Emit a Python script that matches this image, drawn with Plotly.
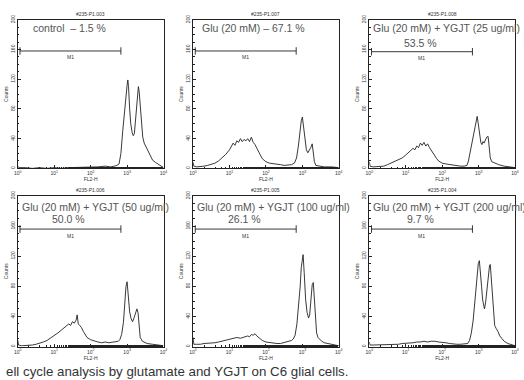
import plotly.graph_objects as go

# ---------------- data ----------------
panel_ids = ["#235-P1.003", "#235-P1.007", "#235-P1.008",
             "#235-P1.006", "#235-P1.005", "#235-P1.004"]
label_line1 = ["control  \u2013 1.5 %", "Glu (20 mM) \u2013 67.1 %",
               "Glu (20 mM) + YGJT (25 ug/ml)", "Glu (20 mM) + YGJT (50 ug/ml)",
               "Glu (20 mM) + YGJT (100 ug/ml)", "Glu (20 mM) + YGJT (200 ug/ml)"]
label_line2 = ["", "", "53.5 %", "50.0 %", "26.1 %", "9.7 %"]

# FL2-H position in decades (log10) and counts, per panel
p1_log = [0.0, 0.03, 0.2, 0.4, 0.6, 0.8, 1.0, 1.2, 1.4, 1.6, 1.8, 2.0, 2.2, 2.4, 2.55, 2.65, 2.72, 2.78, 2.83, 2.88, 2.93, 2.97,
          3.0, 3.02, 3.04, 3.07, 3.1, 3.14, 3.17, 3.2, 3.24, 3.28, 3.31, 3.33, 3.36, 3.39, 3.43, 3.47, 3.52, 3.58, 3.64, 3.7,
          3.78, 3.86, 3.93, 4.0]
p1_cnt = [3, 1, 1, 0, 1, 0, 1, 0, 1, 1, 2, 1, 2, 3, 2, 3, 4, 6, 20, 50, 80, 100,
          112, 119, 110, 80, 60, 48, 44, 47, 70, 98, 110, 104, 88, 70, 42, 34, 29, 24, 16, 11,
          8, 5, 3, 1]

p2_log = [0.0, 0.02, 0.1, 0.2, 0.3, 0.4, 0.5, 0.6, 0.7, 0.8, 0.9, 1.0, 1.05, 1.1, 1.15, 1.2, 1.25, 1.3, 1.35, 1.4,
          1.45, 1.5, 1.55, 1.6, 1.65, 1.7, 1.75, 1.8, 1.85, 1.9, 1.95, 2.0, 2.1, 2.2, 2.3, 2.4, 2.5, 2.6, 2.7, 2.78,
          2.84, 2.89, 2.93, 2.97, 3.0, 3.03, 3.07, 3.11, 3.15, 3.19, 3.23, 3.27, 3.3, 3.33, 3.37, 3.45, 3.6, 3.8, 4.0]
p2_cnt = [8, 3, 2, 2, 3, 4, 5, 7, 10, 14, 19, 25, 30, 34, 31, 37, 35, 40, 36, 39,
          37, 40, 36, 42, 35, 32, 27, 22, 17, 13, 11, 9, 7, 6, 5, 5, 4, 5, 5, 7,
          14, 30, 50, 64, 69, 58, 36, 25, 21, 24, 28, 33, 22, 9, 4, 3, 2, 2, 1]

p3_log = [0.0, 0.02, 0.1, 0.2, 0.3, 0.4, 0.5, 0.6, 0.7, 0.8, 0.9, 1.0, 1.1, 1.2, 1.25, 1.3, 1.35, 1.4, 1.45, 1.5,
          1.55, 1.6, 1.65, 1.7, 1.75, 1.8, 1.85, 1.9, 2.0, 2.1, 2.2, 2.3, 2.4, 2.5, 2.6, 2.68, 2.72, 2.76, 2.8, 2.85,
          2.9, 2.94, 2.96, 2.99, 3.02, 3.06, 3.09, 3.12, 3.15, 3.18, 3.22, 3.26, 3.29, 3.32, 3.36, 3.45, 3.55, 3.7, 3.85, 4.0]
p3_cnt = [9, 3, 2, 2, 3, 3, 5, 7, 9, 12, 14, 18, 22, 27, 25, 30, 28, 34, 31, 35,
          30, 33, 28, 24, 20, 16, 13, 10, 7, 6, 5, 4, 4, 3, 3, 4, 10, 20, 30, 42,
          55, 66, 70, 60, 45, 35, 32, 36, 34, 38, 42, 43, 30, 14, 9, 7, 5, 3, 2, 1]

p4_log = [0.0, 0.02, 0.1, 0.2, 0.3, 0.4, 0.5, 0.6, 0.7, 0.8, 0.9, 1.0, 1.1, 1.2, 1.3, 1.4, 1.45, 1.5, 1.55, 1.6,
          1.63, 1.66, 1.7, 1.75, 1.8, 1.85, 1.9, 2.0, 2.1, 2.2, 2.3, 2.4, 2.5, 2.6, 2.7, 2.76, 2.8, 2.85, 2.9, 2.94,
          2.97, 3.0, 3.03, 3.07, 3.11, 3.15, 3.19, 3.23, 3.27, 3.3, 3.33, 3.36, 3.42, 3.55, 3.7, 3.85, 4.0]
p4_cnt = [8, 2, 1, 1, 2, 2, 3, 4, 6, 8, 11, 14, 18, 22, 26, 30, 28, 33, 31, 35,
          42, 30, 28, 25, 20, 16, 12, 9, 7, 6, 5, 6, 5, 6, 6, 7, 9, 16, 32, 58,
          80, 86, 68, 46, 37, 33, 38, 46, 50, 45, 25, 12, 7, 4, 3, 2, 1]

p5_log = [0.0, 0.02, 0.1, 0.2, 0.3, 0.4, 0.5, 0.6, 0.7, 0.8, 0.9, 1.0, 1.1, 1.2, 1.3, 1.4, 1.5, 1.55, 1.6, 1.65,
          1.7, 1.75, 1.8, 1.85, 1.9, 2.0, 2.1, 2.2, 2.3, 2.4, 2.5, 2.6, 2.7, 2.75, 2.8, 2.85, 2.9, 2.94, 2.97, 3.0,
          3.02, 3.05, 3.09, 3.13, 3.17, 3.2, 3.24, 3.27, 3.3, 3.33, 3.36, 3.39, 3.43, 3.48, 3.53, 3.6, 3.75, 3.9, 4.0]
p5_cnt = [12, 3, 3, 3, 4, 4, 4, 5, 6, 7, 8, 9, 10, 12, 11, 13, 14, 13, 16, 15,
          17, 14, 12, 10, 8, 6, 5, 4, 4, 4, 5, 6, 8, 10, 15, 30, 55, 80, 105, 120,
          122, 98, 62, 45, 38, 42, 62, 82, 85, 65, 44, 18, 12, 9, 7, 5, 3, 2, 1]

p6_log = [0.0, 0.02, 0.1, 0.2, 0.3, 0.4, 0.5, 0.6, 0.7, 0.8, 0.9, 1.0, 1.1, 1.2, 1.3, 1.4, 1.5, 1.6, 1.7, 1.8,
          1.9, 2.0, 2.1, 2.2, 2.3, 2.4, 2.5, 2.6, 2.7, 2.75, 2.8, 2.85, 2.9, 2.95, 2.99, 3.02, 3.05, 3.08, 3.11, 3.14,
          3.16, 3.19, 3.23, 3.27, 3.3, 3.32, 3.35, 3.38, 3.41, 3.44, 3.48, 3.53, 3.58, 3.64, 3.7, 3.8, 3.9, 4.0]
p6_cnt = [6, 2, 2, 2, 2, 2, 2, 3, 3, 3, 4, 4, 5, 5, 6, 6, 7, 6, 7, 7,
          6, 6, 5, 4, 3, 3, 3, 4, 4, 8, 18, 35, 62, 90, 110, 114, 100, 80, 62, 52,
          50, 58, 80, 100, 108, 109, 90, 65, 45, 28, 24, 20, 14, 10, 7, 4, 2, 1]

# M1 gate (decades) and its drawn level (counts)
m1_lo = [0.06, 0.06, 0.06, 0.06, 0.06, 0.06]
m1_hi = [2.83, 2.83, 2.83, 2.83, 2.83, 2.83]
m1_level = [158, 158, 157, 156, 156, 156]

x_tick_vals = [1, 10, 100, 1000, 10000]
x_tick_text = ["10<sup>0</sup>", "10<sup>1</sup>", "10<sup>2</sup>", "10<sup>3</sup>", "10<sup>4</sup>"]
y_tick_vals = [0, 40, 80, 120, 160, 200]

logs = [p1_log, p2_log, p3_log, p4_log, p5_log, p6_log]
cnts = [p1_cnt, p2_cnt, p3_cnt, p4_cnt, p5_cnt, p6_cnt]

# ---------------- layout ----------------
W, H = 524, 380
xdoms = [[14 / W, 162 / W], [192 / W, 340 / W], [371 / W, 519 / W]]
ydoms = [[1 - 166 / H, 1 - 15 / H], [1 - 347 / H, 1 - 194 / H]]

LINE = "#222222"
TXT = "#555555"
FONT = "Liberation Sans, Arial, sans-serif"

fig = go.Figure()
annotations = []
layout = dict(width=W, height=H, margin=dict(l=0, r=0, t=0, b=0),
              paper_bgcolor="white", plot_bgcolor="white", showlegend=False,
              font=dict(family=FONT, color="#333"))

for i in range(6):
    r, c = divmod(i, 3)
    sfx = "" if i == 0 else str(i + 1)
    xa, ya = "x" + sfx, "y" + sfx
    layout["xaxis" + sfx] = dict(
        type="log", range=[0, 4], domain=xdoms[c], anchor=ya,
        tickvals=x_tick_vals, ticktext=x_tick_text, tickfont=dict(size=5, color="#333"),
        ticks="inside", ticklen=3, tickcolor=LINE, showline=True, mirror=True,
        linecolor=LINE, linewidth=1, showgrid=False, zeroline=False,
        minor=dict(ticks="inside", ticklen=1.5, tickcolor=LINE, showgrid=False),
        title=dict(text="FL2-H", font=dict(size=5, color="#333"), standoff=1))
    layout["yaxis" + sfx] = dict(
        range=[0, 200], domain=ydoms[r], anchor=xa,
        tickvals=y_tick_vals, tickangle=-90, tickfont=dict(size=5, color="#333"),
        ticks="inside", ticklen=3, tickcolor=LINE, showline=True, mirror=True,
        linecolor=LINE, linewidth=1, showgrid=False, zeroline=False,
        minor=dict(ticks="inside", ticklen=1.5, tickcolor=LINE, dtick=10, showgrid=False),
        title=dict(text="Counts", font=dict(size=5, color="#333"), standoff=1))

    fig.add_trace(go.Scatter(x=[10 ** v for v in logs[i]], y=cnts[i], mode="lines",
                             line=dict(color=LINE, width=0.9), xaxis=xa, yaxis=ya,
                             hoverinfo="skip"))
    lo, hi, lv = m1_lo[i], m1_hi[i], m1_level[i]
    fig.add_trace(go.Scatter(
        x=[10 ** lo, 10 ** hi, None, 10 ** lo, 10 ** lo, None, 10 ** hi, 10 ** hi],
        y=[lv, lv, None, lv - 5, lv + 5, None, lv - 5, lv + 5],
        mode="lines", line=dict(color=LINE, width=0.9), xaxis=xa, yaxis=ya,
        hoverinfo="skip"))
    annotations.append(dict(x=(lo + hi) / 2, y=lv - 2, xref=xa, yref=ya, text="M1",
                            showarrow=False, yanchor="top", font=dict(size=5, color="#333")))

    # panel id on top
    annotations.append(dict(x=0.5, y=1, xref=xa + " domain", yref=ya + " domain",
                            text=panel_ids[i], showarrow=False, yanchor="bottom", yshift=1,
                            font=dict(size=5, color="#333")))
    # condition labels
    if label_line2[i] == "":
        x1 = 0.09 if i == 0 else 0.05
        annotations.append(dict(x=x1, y=0.945, xref=xa + " domain", yref=ya + " domain",
                                text=label_line1[i], showarrow=False, xanchor="left",
                                yanchor="middle", font=dict(size=10.5, color=TXT, family=FONT)))
    else:
        y1 = 0.945 if r == 0 else 0.925
        y2 = 0.845 if r == 0 else 0.845
        annotations.append(dict(x=0.012, y=y1, xref=xa + " domain", yref=ya + " domain",
                                text=label_line1[i], showarrow=False, xanchor="left",
                                yanchor="middle", font=dict(size=10.5, color=TXT, family=FONT)))
        annotations.append(dict(x=0.35, y=y2, xref=xa + " domain", yref=ya + " domain",
                                text=label_line2[i], showarrow=False, xanchor="center",
                                yanchor="middle", font=dict(size=10.5, color=TXT, family=FONT)))

caption = "ell cycle analysis by glutamate and YGJT on C6 glial cells."
annotations.append(dict(x=0, y=(H - 372) / H, xref="paper", yref="paper", text=caption,
                        showarrow=False, xanchor="left", yanchor="middle",
                        font=dict(size=13.3, color="#333", family=FONT)))

layout["annotations"] = annotations
fig.update_layout(**layout)
fig.write_html("out.html")
